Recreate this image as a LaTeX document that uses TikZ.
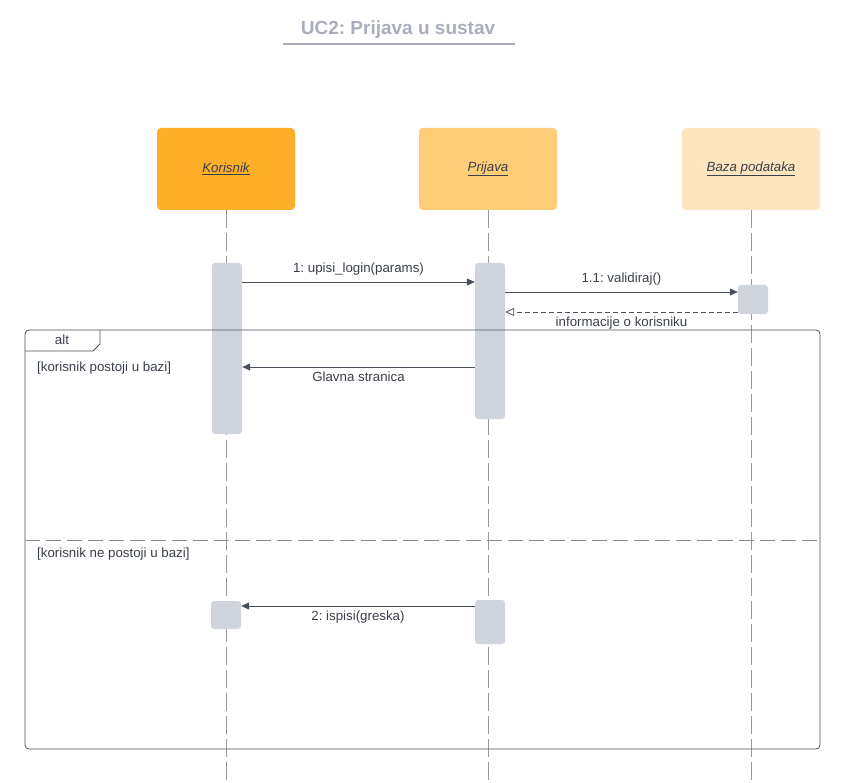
\documentclass[tikz,border=0pt]{standalone}
\usepackage{fontspec}
\setmainfont{Liberation Sans}
\usetikzlibrary{arrows.meta}
\frenchspacing

\definecolor{naslov}{HTML}{A9AEBA}
\definecolor{tekst}{HTML}{3A4049}
\definecolor{linija}{HTML}{4A5059}
\definecolor{aktiv}{HTML}{D0D5DD}
\definecolor{kor}{HTML}{FFAE2A}
\definecolor{pri}{HTML}{FFCD78}
\definecolor{baz}{HTML}{FFE5BD}

\begin{document}
\begin{tikzpicture}[x=1pt,y=-1pt]
        \tikzstyle{every node}=[text=tekst,font=\fontsize{13.3}{15}\selectfont,inner sep=0pt]
        \tikzstyle{glava}=[rounded corners=4pt,minimum width=138pt,minimum height=82pt,font=\fontsize{13.3}{15}\selectfont\itshape]
        \tikzstyle{akt}=[fill=aktiv,rounded corners=3pt,minimum width=30pt]
        \tikzstyle{zivot}=[draw=gray!80,line width=0.6pt,dash pattern=on 18pt off 5pt]
        \tikzstyle{poruka}=[draw=linija,line width=0.8pt,-{Triangle[length=8pt,width=7pt]}]
        \tikzstyle{povrat}=[draw=linija,line width=0.8pt,dash pattern=on 5pt off 3pt,-{Triangle[open,length=9pt,width=8pt]}]
        \useasboundingbox (0,0) rectangle (845,783);

        % naslov
        \node[text=naslov,font=\fontsize{19}{21}\selectfont\bfseries] (naslov) at (398,30) {UC2: Prijava u sustav};
        \draw[naslov,line width=1.2pt] (283,44) -- (515,44);

        % sudionici
        \node[glava,fill=kor] (korisnik) at (226,169) {\underline{Korisnik}};
        \node[glava,fill=pri] (prijava) at (488,169) {\underline{Prijava}};
        \node[glava,fill=baz] (baza) at (751,169) {\underline{Baza podataka}};
        \foreach \s/\x in {korisnik/226,prijava/488,baza/751}{
            \coordinate (\s-kraj) at (\x,783);
            \draw[zivot] (\s.south) -- (\s-kraj);
        }

        % aktivacije
        \node[akt,minimum height=171pt] (kor1) at (227,348.5) {};
        \node[akt,minimum height=156pt] (pri1) at (490,341) {};
        \node[akt,minimum height=29pt] (baz1) at (753,299.5) {};
        \node[akt,minimum height=28pt] (kor2) at (226,615) {};
        \node[akt,minimum height=44pt] (pri2) at (490,622) {};

        % poruke
        \coordinate (r1) at (0,282);
        \coordinate (r2) at (0,292);
        \coordinate (r3) at (0,312);
        \coordinate (r4) at (0,367);
        \coordinate (r5) at (0,606);
        \draw[poruka] (kor1.east |- r1) -- node[above=6pt] (m1) {1: upisi\_login(params)} (pri1.west |- r1);
        \draw[poruka] (pri1.east |- r2) -- node[above=6pt] (m2) {1.1: validiraj()} (baz1.west |- r2);
        \draw[povrat] (baz1.west |- r3) -- node[below=4pt] (m3) {informacije o korisniku} (pri1.east |- r3);
        \draw[poruka] (pri1.west |- r4) -- node[below=4pt] (m4) {Glavna stranica} (kor1.east |- r4);
        \draw[poruka] (pri2.west |- r5) -- node[below=4pt] (m5) {2: ispisi(greska)} (kor2.east |- r5);

        % alt okvir
        \draw[linija,line width=0.8pt,rounded corners=4pt] (25,330) rectangle (820,749);
        \draw[linija,line width=0.8pt] (25,351) -- (93,351) -- (100,344) -- (100,330);
        \node (alt) at (62,340) {alt};
        \node[anchor=west] (uvjet1) at (37,368) {[korisnik postoji u bazi]};
        \draw[gray!90,line width=0.9pt,dash pattern=on 15pt off 6pt] (25,540) -- (820,540);
        \node[anchor=west] (uvjet2) at (37,554) {[korisnik ne postoji u bazi]};
\end{tikzpicture}
\end{document}
